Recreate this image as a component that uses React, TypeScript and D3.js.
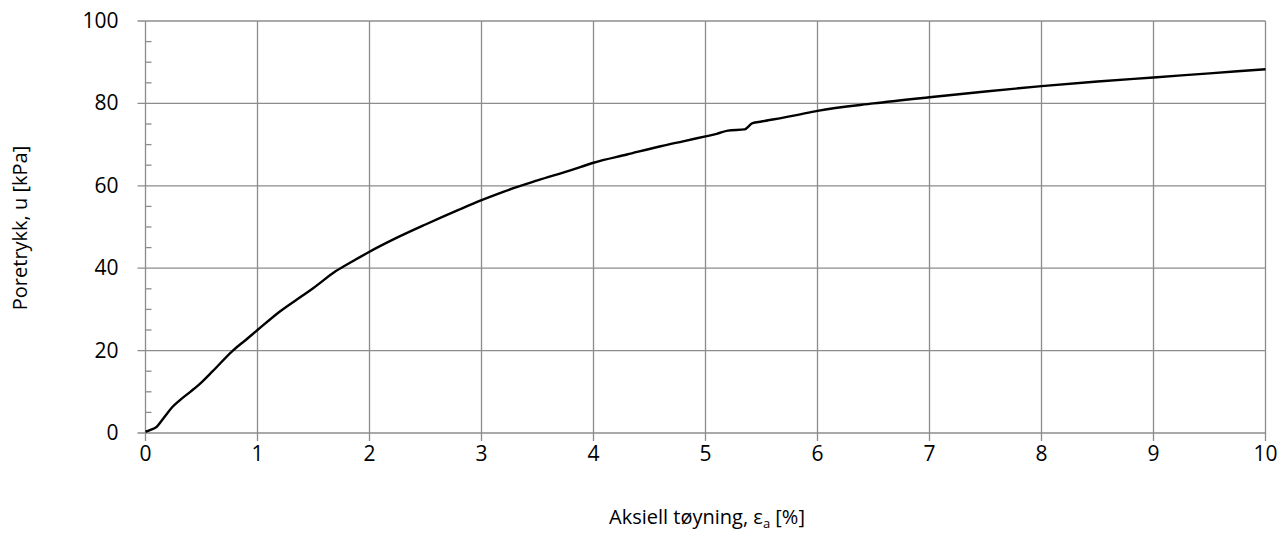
import React, { useEffect, useRef } from "react";
import * as d3 from "d3";

const WIDTH = 1288;
const HEIGHT = 551;

// strain [%] and pore pressure [kPa]
const strain = [0, 0.05, 0.1, 0.15, 0.2, 0.24, 0.3, 0.4, 0.5, 0.6, 0.78, 0.9, 1.0, 1.2, 1.4, 1.5, 1.7, 1.85, 2.0, 2.2, 2.5, 2.8, 3.0, 3.2, 3.5, 3.8, 4.0, 4.3, 4.6, 4.8, 5.0, 5.1, 5.2, 5.35, 5.42, 5.5, 5.8, 6.0, 6.5, 7.0, 7.5, 8.0, 8.5, 9.0, 9.5, 10.0];
const porePressure = [0.3, 0.8, 1.5, 3.2, 5.0, 6.3, 7.8, 10.0, 12.3, 15.0, 20.0, 22.7, 25.0, 29.5, 33.3, 35.2, 39.3, 41.7, 44.0, 46.8, 50.6, 54.2, 56.5, 58.6, 61.3, 63.8, 65.6, 67.6, 69.6, 70.8, 72.0, 72.6, 73.4, 73.7, 75.2, 75.6, 77.1, 78.2, 80.0, 81.5, 82.9, 84.2, 85.3, 86.3, 87.3, 88.3];

const xTicks = [0, 1, 2, 3, 4, 5, 6, 7, 8, 9, 10];
const yTicks = [0, 20, 40, 60, 80, 100];
const yMinorTicks = d3.range(0, 101, 5).filter((v) => v % 20 !== 0);

const GRID = "#8c8c8c";
const FONT = "'Open Sans', 'Liberation Sans', sans-serif";

function App() {
  const ref = useRef<SVGSVGElement | null>(null);

  useEffect(() => {
    const svg = d3.select(ref.current);
    svg.selectAll("*").remove();

    const x = d3.scaleLinear().domain([0, 10]).range([145.5, 1265.5]);
    const y = d3.scaleLinear().domain([0, 100]).range([433, 21]);

    const g = svg.append("g");

    // grid
    g.selectAll(".hgrid")
      .data(yTicks)
      .enter()
      .append("line")
      .attr("x1", x(0) - 8)
      .attr("x2", x(10))
      .attr("y1", (d) => y(d))
      .attr("y2", (d) => y(d))
      .attr("stroke", GRID)
      .attr("stroke-width", 1.3);

    g.selectAll(".vgrid")
      .data(xTicks)
      .enter()
      .append("line")
      .attr("x1", (d) => x(d))
      .attr("x2", (d) => x(d))
      .attr("y1", y(100))
      .attr("y2", y(0) + 8)
      .attr("stroke", GRID)
      .attr("stroke-width", 1.3);

    // minor ticks on y axis (inside)
    g.selectAll(".minor")
      .data(yMinorTicks)
      .enter()
      .append("line")
      .attr("x1", x(0))
      .attr("x2", x(0) + 6)
      .attr("y1", (d) => y(d))
      .attr("y2", (d) => y(d))
      .attr("stroke", GRID)
      .attr("stroke-width", 1.3);

    // tick labels
    g.selectAll(".xlab")
      .data(xTicks)
      .enter()
      .append("text")
      .attr("x", (d) => x(d))
      .attr("y", 461)
      .attr("text-anchor", "middle")
      .attr("font-family", FONT)
      .attr("font-size", 21)
      .attr("fill", "#000")
      .text((d) => d);

    g.selectAll(".ylab")
      .data(yTicks)
      .enter()
      .append("text")
      .attr("x", x(0) - 27)
      .attr("y", (d) => y(d) + 7)
      .attr("text-anchor", "end")
      .attr("font-family", FONT)
      .attr("font-size", 21)
      .attr("fill", "#000")
      .text((d) => d);

    // curve
    const line = d3
      .line<number>()
      .x((d, i) => x(strain[i]))
      .y((d) => y(d))
      .curve(d3.curveMonotoneX);

    g.append("path")
      .datum(porePressure)
      .attr("d", line)
      .attr("fill", "none")
      .attr("stroke", "#000")
      .attr("stroke-width", 2.4)
      .attr("stroke-linejoin", "round");

    // axis titles
    const xt = g
      .append("text")
      .attr("x", 707)
      .attr("y", 524)
      .attr("text-anchor", "middle")
      .attr("font-family", FONT)
      .attr("font-size", 20)
      .attr("fill", "#000");
    xt.append("tspan").text("Aksiell tøyning, ε");
    xt.append("tspan").attr("font-size", 13).attr("dy", 4).text("a");
    xt.append("tspan").attr("dy", -4).text(" [%]");

    g.append("text")
      .attr("transform", `translate(27,228) rotate(-90)`)
      .attr("text-anchor", "middle")
      .attr("font-family", FONT)
      .attr("font-size", 20)
      .attr("fill", "#000")
      .text("Poretrykk, u [kPa]");
  }, []);

  return <svg ref={ref} width={WIDTH} height={HEIGHT} style={{ position: "absolute", left: 0, top: 0, background: "#fff" }} />;
}

export default App;
